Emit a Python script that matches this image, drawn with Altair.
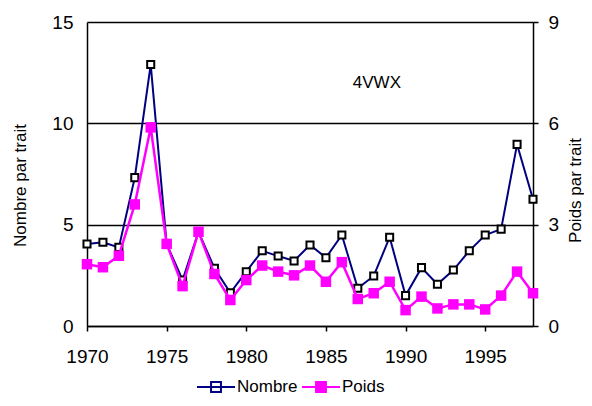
import altair as alt
import pandas as pd

years = list(range(1970, 1999))
nombre = [4.05, 4.13, 3.88, 7.32, 12.9, 4.05, 2.27, 4.65, 2.85, 1.64,
          2.68, 3.71, 3.45, 3.21, 4.0, 3.37, 4.49, 1.86, 2.47, 4.38,
          1.50, 2.88, 2.06, 2.76, 3.71, 4.49, 4.78, 8.96, 6.25]
poids = [1.83, 1.74, 2.08, 3.60, 5.88, 2.43, 1.18, 2.79, 1.54, 0.77,
         1.36, 1.79, 1.61, 1.50, 1.79, 1.31, 1.89, 0.80, 0.97, 1.31,
         0.47, 0.87, 0.52, 0.64, 0.64, 0.49, 0.90, 1.61, 0.97]
series = ["Nombre", "Poids"]
x_ticks = [1970, 1975, 1980, 1985, 1990, 1995]
left_ticks = [0, 5, 10, 15]
right_ticks = [0, 3, 6, 9]
label_text = ["4VWX"]
label_year = [1988.2]
label_value = [12.0]

df = pd.DataFrame({"year": years, "nombre": nombre, "poids": poids})
lab = pd.DataFrame({"year": label_year, "nombre": label_value, "text": label_text})

FONT = "Liberation Sans"
NAVY = "#000080"
MAG = "#ff00ff"
TICKFS = 19
TITLEFS = 17

xenc = alt.X("year:Q",
             scale=alt.Scale(domain=[1970, 1998], nice=False, zero=False),
             axis=alt.Axis(values=x_ticks, format="d", title=None, grid=False,
                           labelFontSize=TICKFS, labelFont=FONT, labelColor="black",
                           labelFlush=False,
                           tickSize=5, tickColor="black", tickWidth=1.5,
                           domainColor="black", domainWidth=1.5,
                           labelPadding=16))

stroke_scale = alt.Scale(domain=series, range=[NAVY, MAG])
fill_scale = alt.Scale(domain=series, range=["white", MAG])
legend = alt.Legend(title=None, orient="none", legendX=109, legendY=345,
                    direction="horizontal",
                    symbolType="M-1,0H1M-0.26,-0.26H0.26V0.26H-0.26Z",
                    symbolSize=1444, symbolStrokeWidth=2,
                    labelFontSize=17, labelFont=FONT, labelColor="black",
                    labelOffset=1, columnPadding=0, padding=0)

yleft = alt.Y("nombre:Q",
              scale=alt.Scale(domain=[0, 15], nice=False),
              axis=alt.Axis(values=left_ticks, title="Nombre par trait",
                            grid=True, gridColor="black", gridWidth=1.5,
                            ticks=False, tickSize=0, labelPadding=14,
                            labelFontSize=TICKFS, labelFont=FONT, labelColor="black",
                            domainColor="black", domainWidth=1.5,
                            titleFontSize=TITLEFS, titleFont=FONT, titleFontWeight="normal",
                            titleColor="black", titleBaseline="middle",
                            titleX=-67, titleY=163))

yright = alt.Y("poids:Q",
               scale=alt.Scale(domain=[0, 9], nice=False),
               axis=alt.Axis(values=right_ticks, title="Poids par trait",
                             orient="right", grid=False,
                             tickSize=5, tickColor="black", tickWidth=1.5,
                             labelPadding=10,
                             labelFontSize=TICKFS, labelFont=FONT, labelColor="black",
                             domainColor="black", domainWidth=1.5,
                             titleFontSize=TITLEFS, titleFont=FONT, titleFontWeight="normal",
                             titleColor="black", titleBaseline="middle",
                             titleAngle=270, titleX=42, titleY=168))

stroke_enc = alt.Stroke("series:N", scale=stroke_scale, legend=legend)
fill_enc = alt.Fill("series:N", scale=fill_scale, legend=legend)

nbase = alt.Chart(df).transform_calculate(series="'Nombre'")
pbase = alt.Chart(df).transform_calculate(series="'Poids'")

n_line = nbase.mark_line(strokeWidth=2).encode(x=xenc, y=yleft, stroke=stroke_enc)
n_pts = nbase.mark_point(shape="square", filled=True, size=50, stroke="black",
                         strokeWidth=2, opacity=1).encode(
    x=xenc, y=yleft, fill=fill_enc)
n_text = alt.Chart(lab).mark_text(fontSize=17, font=FONT, color="black",
                                  baseline="middle", align="center").encode(
    x="year:Q", y="nombre:Q", text="text:N")

p_line = pbase.mark_line(strokeWidth=2.5).encode(x=xenc, y=yright, stroke=stroke_enc)
p_pts = pbase.mark_point(shape="square", filled=True, size=110, opacity=1).encode(
    x=xenc, y=yright, fill=fill_enc)

left = alt.layer(n_line, n_pts, n_text)
right = alt.layer(p_line, p_pts)

chart = alt.layer(left, right).resolve_scale(y="independent").properties(
    width=446, height=304,
    autosize=alt.AutoSizeParams(type="none"),
    padding={"left": 79, "top": 14, "right": 51, "bottom": 72},
    background="white",
).configure_view(strokeOpacity=0)

chart.save("out.html", embed_options={"renderer": "svg", "actions": False})
